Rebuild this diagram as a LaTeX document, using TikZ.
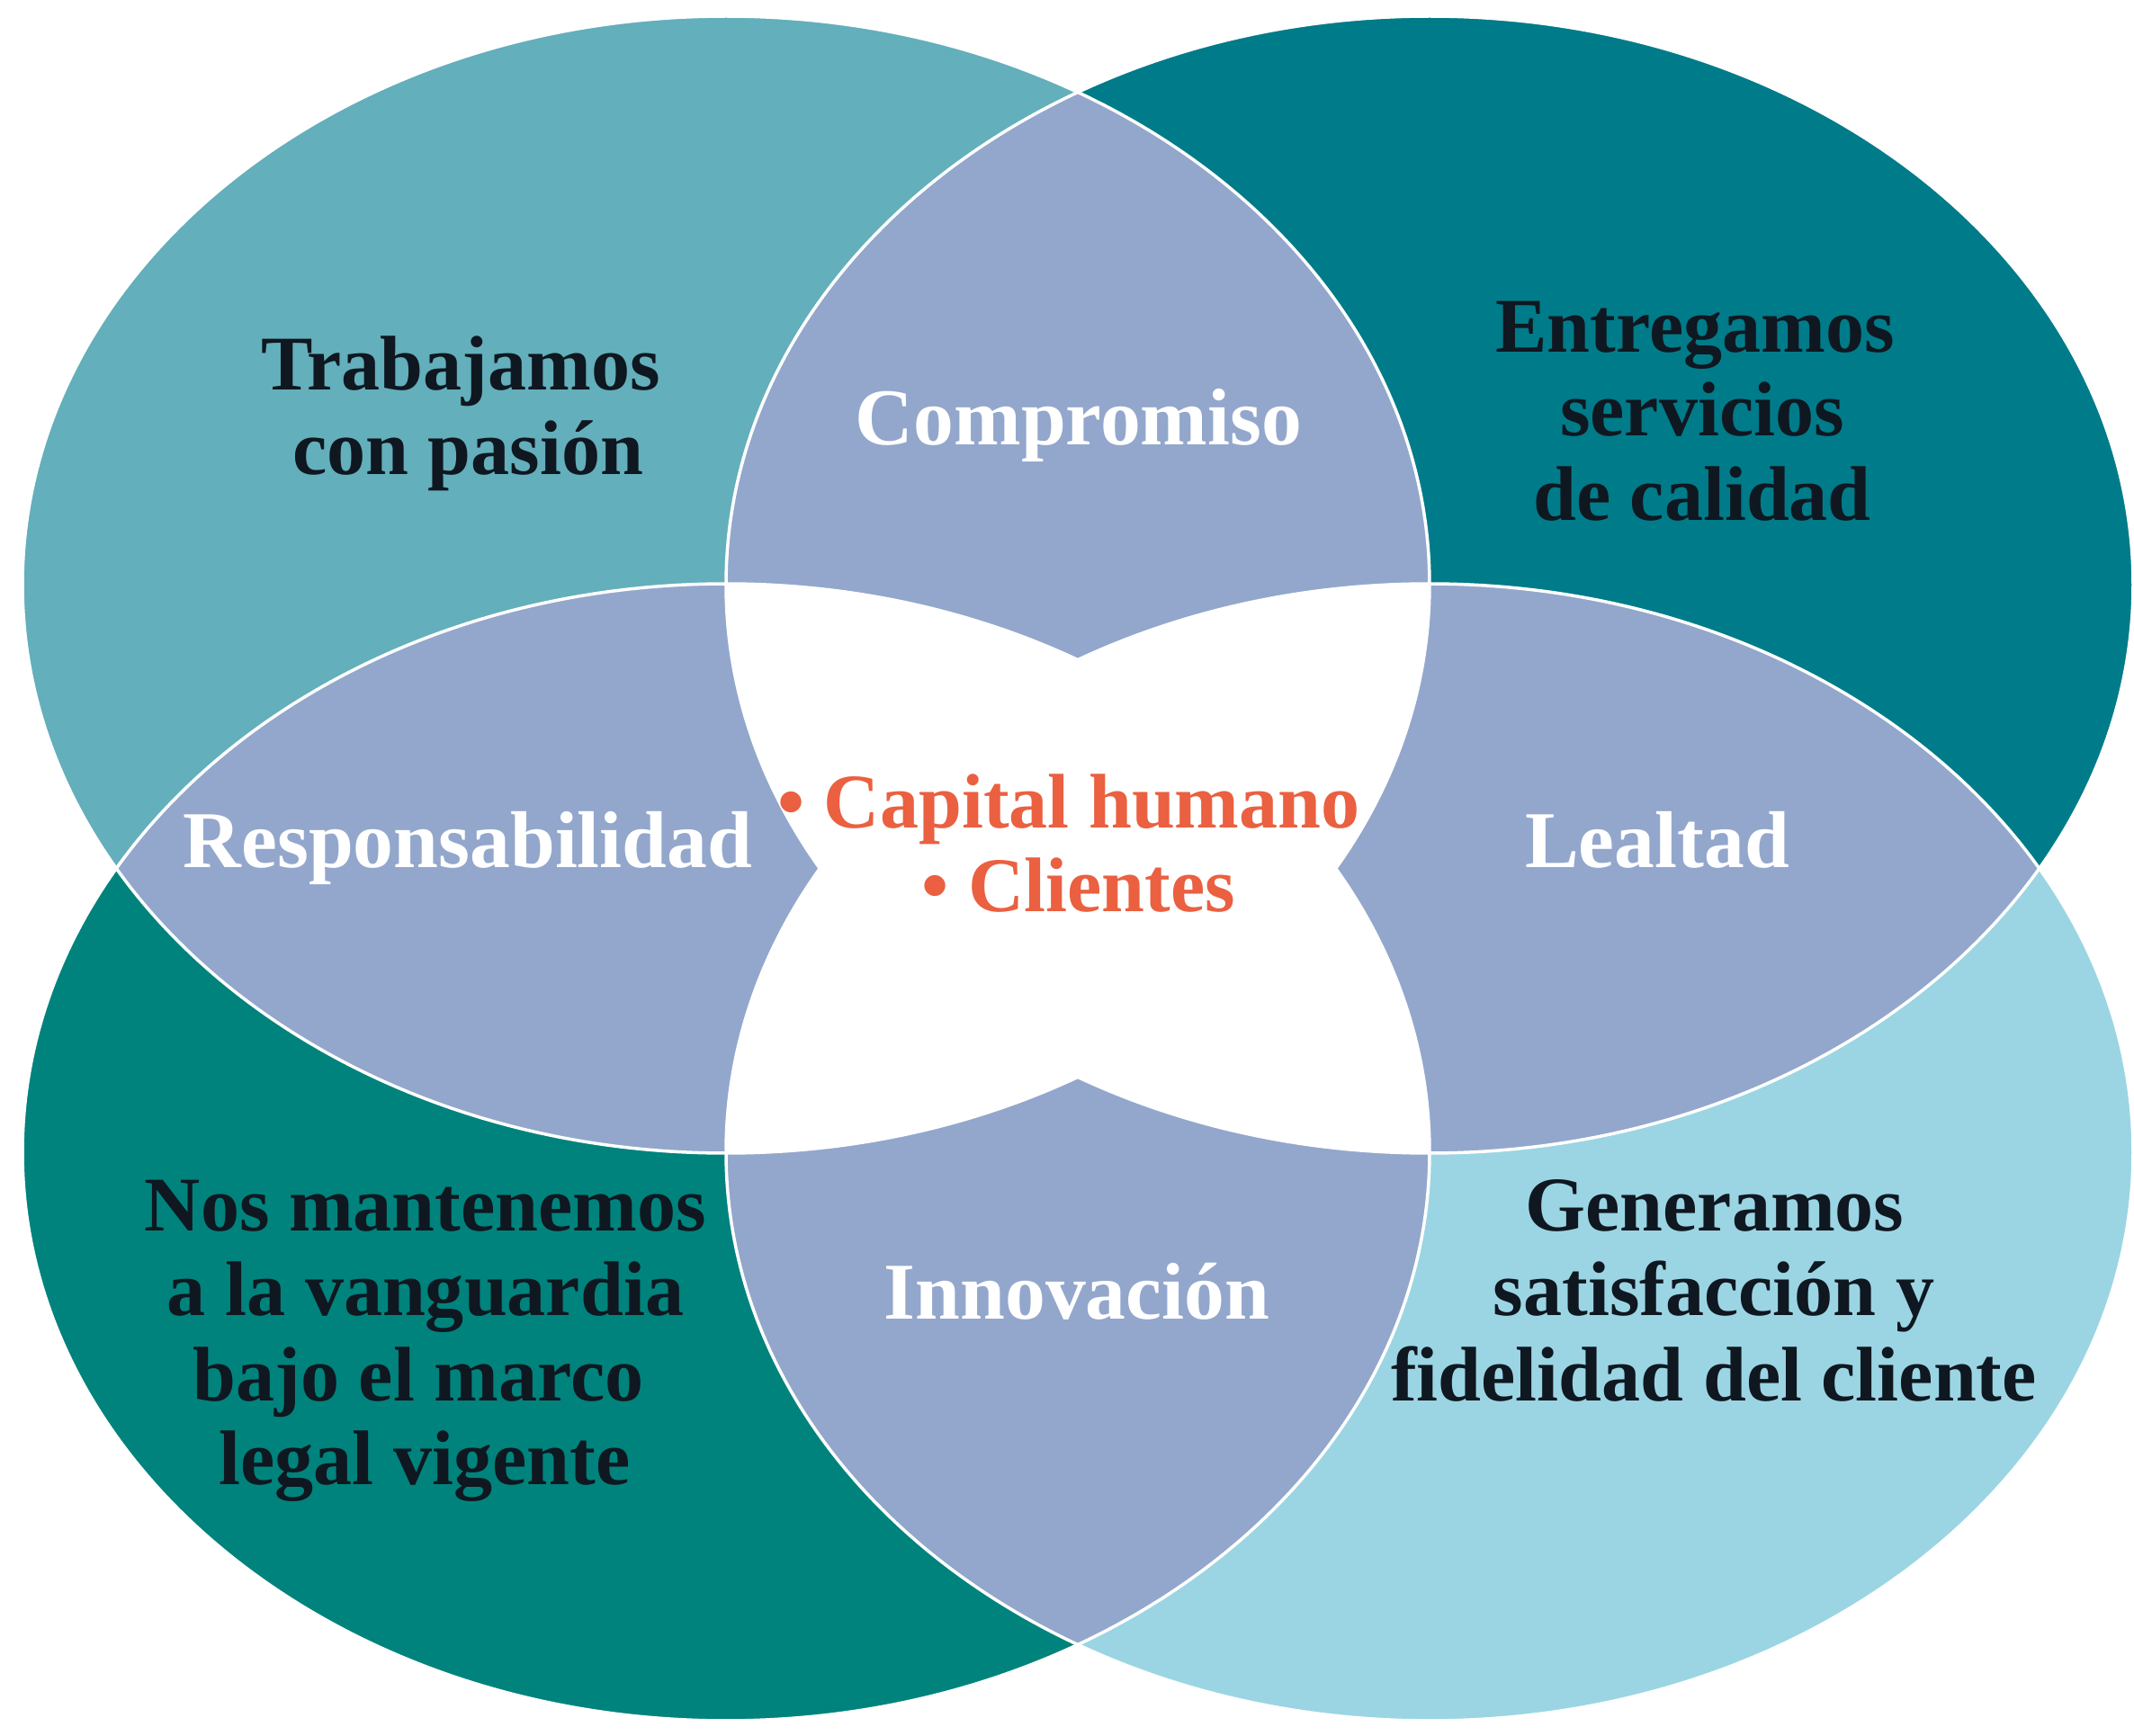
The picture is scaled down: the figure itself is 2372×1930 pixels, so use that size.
\documentclass[tikz,border=0pt]{standalone}
\usepackage{fontspec}
\setmainfont{Liberation Serif}
\definecolor{cTL}{HTML}{63AFBB}
\definecolor{cTR}{HTML}{007B89}
\definecolor{cBL}{HTML}{00837C}
\definecolor{cBR}{HTML}{9BD5E3}
\definecolor{cLav}{HTML}{93A7CC}
\definecolor{cDark}{HTML}{0F1720}
\definecolor{cOrange}{HTML}{EA6040}
\tikzset{
  ell/.style={x radius=78.2mm, y radius=63.2mm},
  lbl/.style={anchor=base, inner sep=0pt, font=\fontsize{24.5}{29}\selectfont\bfseries},
  darklbl/.style={lbl, text=cDark},
  whitelbl/.style={lbl, text=white, font=\fontsize{25.5}{30}\selectfont\bfseries},
  orangelbl/.style={lbl, text=cOrange},
  outline/.style={draw=white, line width=0.35mm}
}
\begin{document}
\begin{tikzpicture}[x=0.1mm, y=-0.1mm]
\useasboundingbox (0,0) rectangle (2372,1930);
% ellipse centres
\coordinate (TL) at (807,650);
\coordinate (TR) at (1589,650);
\coordinate (BL) at (807,1281);
\coordinate (BR) at (1589,1281);
% single fills
\fill[cTL] (TL) ellipse [ell];
\fill[cTR] (TR) ellipse [ell];
\fill[cBL] (BL) ellipse [ell];
\fill[cBR] (BR) ellipse [ell];
% pairwise overlaps
\begin{scope}\clip (TL) ellipse [ell]; \fill[cLav] (TR) ellipse [ell];\end{scope}
\begin{scope}\clip (TL) ellipse [ell]; \fill[cLav] (BL) ellipse [ell];\end{scope}
\begin{scope}\clip (TR) ellipse [ell]; \fill[cLav] (BR) ellipse [ell];\end{scope}
\begin{scope}\clip (BL) ellipse [ell]; \fill[cLav] (BR) ellipse [ell];\end{scope}
\begin{scope}\clip (TL) ellipse [ell]; \fill[cLav] (BR) ellipse [ell];\end{scope}
\begin{scope}\clip (TR) ellipse [ell]; \fill[cLav] (BL) ellipse [ell];\end{scope}
% triple overlaps
\begin{scope}\clip (TL) ellipse [ell]; \clip (TR) ellipse [ell]; \fill[white] (BL) ellipse [ell];\end{scope}
\begin{scope}\clip (TL) ellipse [ell]; \clip (TR) ellipse [ell]; \fill[white] (BR) ellipse [ell];\end{scope}
\begin{scope}\clip (BL) ellipse [ell]; \clip (BR) ellipse [ell]; \fill[white] (TL) ellipse [ell];\end{scope}
\begin{scope}\clip (BL) ellipse [ell]; \clip (BR) ellipse [ell]; \fill[white] (TR) ellipse [ell];\end{scope}
% outlines
\draw[outline] (TL) ellipse [ell];
\draw[outline] (TR) ellipse [ell];
\draw[outline] (BL) ellipse [ell];
\draw[outline] (BR) ellipse [ell];
% labels
\node[darklbl] (t1a) at (512,434) {Trabajamos};
\node[darklbl] (t1b) at (520,528) {con pasión};
\node[whitelbl] (comp) at (1199,495) {Compromiso};
\node[darklbl] (t2a) at (1884,392) {Entregamos};
\node[darklbl] (t2b) at (1892,485) {servicios};
\node[darklbl] (t2c) at (1892,579) {de calidad};
\node[whitelbl] (resp) at (520,965) {Responsabilidad};
\node[whitelbl] (leal) at (1842,965) {Lealtad};
\node[orangelbl] (cap) at (1188,921) {• Capital humano};
\node[orangelbl] (cli) at (1199,1014) {• Clientes};
\node[darklbl] (t3a) at (473,1369) {Nos mantenemos};
\node[darklbl] (t3b) at (473,1463) {a la vanguardia};
\node[darklbl] (t3c) at (465,1558) {bajo el marco};
\node[darklbl] (t3d) at (472,1650) {legal vigente};
\node[whitelbl] (inno) at (1197,1467) {Innovación};
\node[darklbl] (t4a) at (1906,1369) {Generamos};
\node[darklbl] (t4b) at (1905,1463) {satisfacción y};
\node[darklbl] (t4c) at (1905,1558) {fidelidad del cliente};
\end{tikzpicture}
\end{document}
